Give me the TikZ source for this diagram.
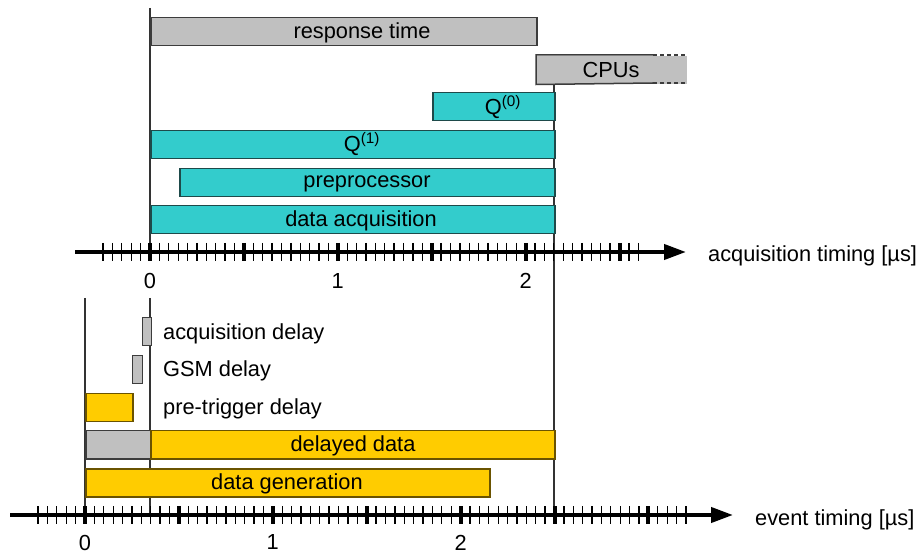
\documentclass[tikz,border=0pt]{standalone}
\usepackage{fontspec}
\setmainfont{Liberation Sans}
\usetikzlibrary{arrows.meta}
\definecolor{bargray}{HTML}{C0C0C0}
\definecolor{barteal}{HTML}{33CCCC}
\definecolor{baryellow}{HTML}{FFCC00}
\definecolor{edgegray}{HTML}{3C3C3C}
\definecolor{edgeteal}{HTML}{1E4A4A}
\definecolor{edgeyellow}{HTML}{6A5300}
\definecolor{guide}{HTML}{333333}
\tikzset{
  bar/.style={line width=1.5pt, minimum height=28pt, inner sep=0pt, anchor=north west},
  graybar/.style={bar, fill=bargray, draw=edgegray},
  tealbar/.style={bar, fill=barteal, draw=edgeteal},
  yellowbar/.style={bar, fill=baryellow, draw=edgeyellow},
  lbl/.style={font=\fontsize{21.8}{26}\selectfont, inner sep=0pt},
  vline/.style={draw=guide, line width=1.6pt},
  axisline/.style={line width=4pt, -{Triangle[length=22pt,width=15pt]}},
  minortick/.style={line width=1.3pt},
  majortick/.style={line width=4pt}
}
\begin{document}
\begin{tikzpicture}[x=1pt,y=-1pt]
\useasboundingbox (0,0) rectangle (919,553);
% guide lines
\coordinate (g1a) at (150,8);   \coordinate (g1b) at (150,252);
\coordinate (g2a) at (150,298); \coordinate (g2b) at (150,515);
\coordinate (g3a) at (85,298);  \coordinate (g3b) at (85,515);
\coordinate (g4a) at (554,83);  \coordinate (g4b) at (554,515);
\draw[vline] (g1a) -- (g1b);
\draw[vline] (g2a) -- (g2b);
\draw[vline] (g3a) -- (g3b);
\draw[vline] (g4a) -- (g4b);

% top bars
\node[graybar, minimum width=386pt] (resp) at (150,17) {};
\node[lbl] (respT) at (362,33) {response time};
\node[bar, fill=bargray, minimum width=150pt] (cpu) at (536,55) {};
\coordinate (cpuTd) at (653,55); \coordinate (cpuBd) at (653,83);
\coordinate (cpuTe) at (686,55); \coordinate (cpuBe) at (686,83);
\draw[draw=edgegray, line width=1.5pt] (cpuTd) -- (cpu.north west) -- (cpu.south west) -- (cpuBd);
\draw[draw=edgegray, line width=1.5pt, dash pattern=on 4pt off 3pt] (cpuTd) -- (cpuTe);
\draw[draw=edgegray, line width=1.5pt, dash pattern=on 4pt off 3pt] (cpuBd) -- (cpuBe);
\node[lbl] (cpuT) at (611,70) {CPUs};
\node[tealbar, minimum width=122pt] (q0) at (432,92) {};
\node[lbl] (q0T) at (503,107) {Q\textsuperscript{(0)}};
\node[tealbar, minimum width=404pt] (q1) at (150,130) {};
\node[lbl] (q1T) at (362,144) {Q\textsuperscript{(1)}};
\node[tealbar, minimum width=375pt] (pre) at (179,168) {};
\node[lbl] (preT) at (367,184) {preprocessor};
\node[tealbar, minimum width=404pt] (daq) at (150,205) {};
\node[lbl] (daqT) at (361,221) {data acquisition};

% top axis
\coordinate (ta0) at (75,252); \coordinate (ta1) at (686,252);
\draw[axisline] (ta0) -- (ta1);
\foreach \i in {-5,...,52}{
  \pgfmathtruncatemacro\m{mod(\i+100,10)}
  \ifnum\m=0
    \draw[majortick] ({150+\i*9.39},243) -- ++(0,18);
  \else
    \draw[minortick] ({150+\i*9.39},243) -- ++(0,18);
  \fi
}
\node[lbl] (t0) at (150,281) {0};
\node[lbl] (t1) at (337.8,281) {1};
\node[lbl] (t2) at (525.6,281) {2};
\node[lbl, anchor=west] (tAx) at (708,256) {acquisition timing [µs]};

% bottom bars
\node[graybar, minimum width=9pt] (acqd) at (141.5,317) {};
\node[lbl, anchor=west] (acqdT) at (163,334) {acquisition delay};
\node[graybar, minimum width=10pt] (gsm) at (131.5,355) {};
\node[lbl, anchor=west] (gsmT) at (163,371) {GSM delay};
\node[yellowbar, minimum width=47pt] (ptd) at (85,393) {};
\node[lbl, anchor=west] (ptdT) at (163,409) {pre-trigger delay};
\node[graybar, minimum width=65pt] (dd0) at (85,430) {};
\node[yellowbar, minimum width=404pt] (dd) at (150,430) {};
\node[lbl] (ddT) at (353,446) {delayed data};
\node[yellowbar, minimum width=404pt] (dg) at (85,468) {};
\node[lbl] (dgT) at (287,484) {data generation};

% bottom axis
\coordinate (ba0) at (10,515); \coordinate (ba1) at (733,515);
\draw[axisline] (ba0) -- (ba1);
\foreach \i in {-5,...,64}{
  \pgfmathtruncatemacro\m{mod(\i+100,10)}
  \ifnum\m=0
    \draw[majortick] ({85+\i*9.39},506) -- ++(0,18);
  \else
    \draw[minortick] ({85+\i*9.39},506) -- ++(0,18);
  \fi
}
\node[lbl] (b0) at (85,542.5) {0};
\node[lbl] (b1) at (272.8,542.5) {1};
\node[lbl] (b2) at (460.6,542.5) {2};
\node[lbl, anchor=west] (bAx) at (755,520) {event timing [µs]};
\end{tikzpicture}
\end{document}
